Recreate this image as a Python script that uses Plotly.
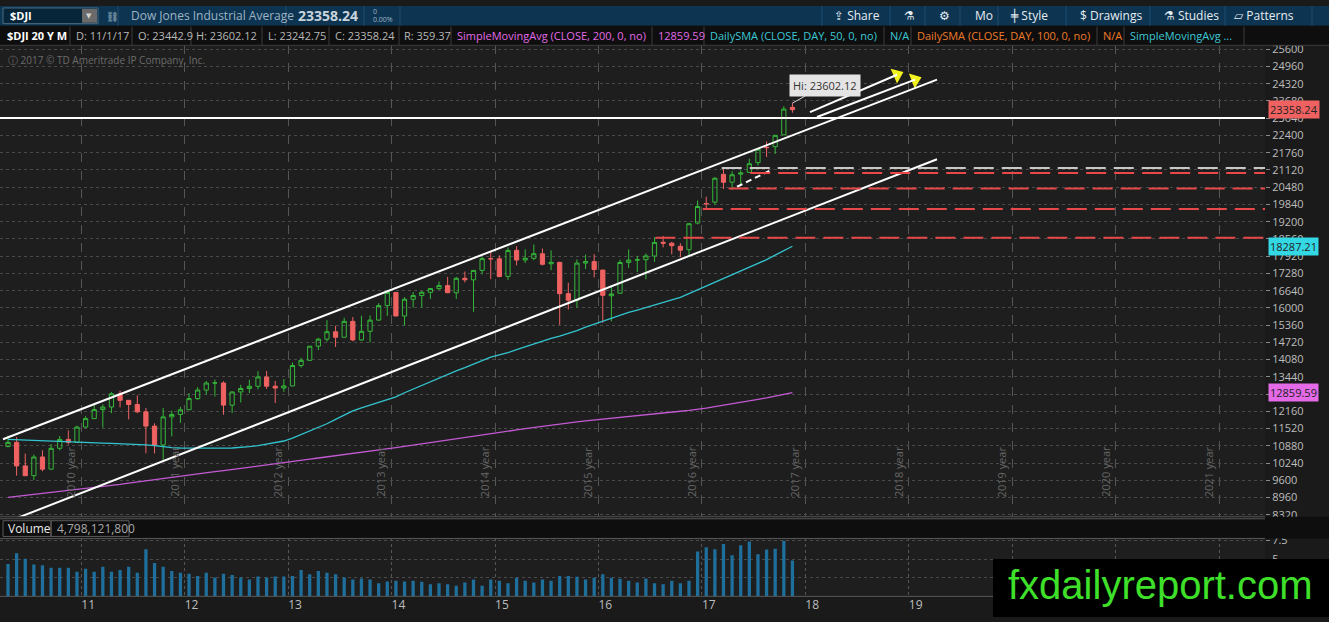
import plotly.graph_objects as go

# Monthly $DJI candles, Apr 2010 .. Nov 2017
months = ["2010-%02d" % m for m in range(4, 13)] + \
         ["%d-%02d" % (y, m) for y in range(2011, 2017) for m in range(1, 13)] + \
         ["2017-%02d" % m for m in range(1, 12)]

opens = [10857, 11009, 10137, 9774, 10466, 10016, 10789, 11120, 11007,
         11577, 11892, 12227, 12321, 12811, 12570, 12415, 12144, 11614, 10912, 11955, 12046,
         12221, 12632, 12952, 13214, 13214, 12391, 12880, 13009, 13092, 13437, 13094, 13027,
         13104, 13861, 14054, 14580, 14839, 15114, 14911, 15500, 14811, 15132, 15548, 16087,
         16572, 15698, 16321, 16458, 16581, 16715, 16828, 16561, 17099, 17041, 17392, 17827,
         17823, 17170, 18135, 17778, 17841, 18011, 17638, 17690, 16529, 16285, 17664, 17719,
         17405, 16452, 16546, 17687, 17774, 17789, 17924, 18434, 18401, 18283, 18162, 19149,
         19873, 19924, 20957, 20665, 20963, 21030, 21392, 21961, 21982, 22423, 23442.9]
highs = [11258, 11206, 10595, 10555, 10720, 10948, 11245, 11452, 11625,
         11981, 12391, 12419, 12876, 12929, 12570, 12753, 12285, 11717, 12284, 12188, 12330,
         12842, 13056, 13290, 13338, 13280, 12899, 13146, 13331, 13653, 13662, 13289, 13359,
         13970, 14150, 14587, 14887, 15542, 15340, 15635, 15658, 15710, 15721, 16174, 16588,
         16589, 16398, 16588, 16632, 16736, 16978, 17152, 17154, 17350, 17395, 17895, 18103,
         17951, 18244, 18289, 18175, 18351, 18204, 18138, 17712, 16933, 17799, 17978, 17996,
         17405, 16795, 17790, 18168, 17934, 18017, 18622, 18668, 18450, 18399, 19152, 19987,
         20126, 20851, 21169, 21070, 21112, 21535, 21929, 22179, 22420, 23485, 23602.12]
lows = [10825, 9774, 9757, 9614, 9936, 10010, 10712, 10929, 11004,
        11555, 11890, 11555, 12093, 12309, 11862, 12093, 10605, 10597, 10362, 11231, 11735,
        12221, 12587, 12780, 12710, 12035, 12101, 12492, 12842, 12979, 12993, 12471, 12883,
        13104, 13784, 14053, 14434, 14746, 14551, 14911, 14761, 14777, 14720, 15523, 15703,
        15699, 15340, 16015, 16015, 16334, 16674, 16563, 16334, 16945, 15855, 17247, 17068,
        17137, 17038, 17579, 17663, 17771, 17575, 17399, 15370, 15942, 16013, 17444, 17128,
        15450, 15503, 16529, 17484, 17332, 17063, 17713, 18247, 17992, 17883, 17931, 19099,
        19678, 19832, 20412, 20380, 20554, 21006, 21279, 21600, 21710, 22416, 23242.75]
closes = [11009, 10137, 9774, 10466, 10015, 10788, 11118, 11006, 11578,
          11892, 12226, 12320, 12811, 12570, 12414, 12143, 11614, 10913, 11955, 12046, 12218,
          12633, 12952, 13212, 13214, 12393, 12880, 13009, 13091, 13437, 13096, 13026, 13104,
          13861, 14054, 14579, 14840, 15116, 14910, 15500, 14810, 15130, 15546, 16086, 16577,
          15699, 16322, 16458, 16581, 16717, 16827, 16563, 17098, 17043, 17391, 17828, 17823,
          17165, 18133, 17776, 17841, 18011, 17620, 17690, 16528, 16285, 17664, 17720, 17425,
          16466, 16517, 17685, 17774, 17787, 17930, 18432, 18401, 18308, 18142, 19124, 19763,
          19864, 20812, 20663, 20941, 21009, 21350, 21891, 21948, 22405, 23377, 23358.24]

# volume in billions of shares
volume_bn = [4.35, 5.78, 5.04, 4.26, 4.17, 3.83, 3.83, 3.83, 3.30,
             3.70, 3.30, 3.96, 3.30, 3.52, 3.96, 3.17, 6.30, 4.48, 3.96, 3.39, 3.17,
             3.04, 2.74, 3.17, 2.52, 3.04, 2.87, 2.52, 2.26, 2.65, 2.52, 2.65, 2.65,
             2.74, 3.52, 2.96, 3.39, 3.17, 2.96, 2.52, 2.26, 2.39, 2.26, 1.74, 2.00,
             2.09, 2.00, 2.09, 1.96, 1.61, 1.74, 1.61, 1.43, 1.87, 2.26, 1.43, 2.26,
             2.09, 1.74, 2.48, 2.09, 1.87, 2.26, 2.09, 2.74, 2.74, 2.61, 2.26, 2.48,
             2.96, 2.48, 2.35, 2.09, 1.87, 2.39, 1.74, 1.61, 2.09, 1.74, 2.09, 6.00,
             6.57, 6.30, 7.00, 5.52, 6.83, 7.35, 5.65, 6.26, 6.39, 7.43, 4.80]

# moving averages (cyan and magenta studies)
sma_cyan = [11120, 11110, 11095, 11085, 11070, 11060, 11050, 11040, 11025,
            11010, 10995, 10985, 10970, 10960, 10945, 10935, 10920, 10890, 10850, 10815, 10800,
            10795, 10790, 10790, 10790, 10795, 10800, 10820, 10850, 10890, 10940, 10990, 11060,
            11170, 11300, 11430, 11550, 11700, 11860, 12030, 12180, 12290, 12390, 12490, 12590,
            12700, 12850, 12990, 13130, 13270, 13410, 13540, 13660, 13780, 13910, 14040, 14170,
            14260, 14340, 14450, 14560, 14670, 14780, 14870, 14950, 15050, 15160, 15290, 15400,
            15510, 15620, 15730, 15830, 15920, 16020, 16120, 16210, 16300, 16390, 16530, 16680,
            16800, 16930, 17080, 17230, 17370, 17500, 17640, 17790, 17960, 18130, 18287.21]
sma_magenta = [8970, 9005, 9040, 9075, 9110, 9145, 9180, 9220, 9255,
               9295, 9335, 9370, 9410, 9450, 9495, 9540, 9580, 9620, 9665, 9705, 9750,
               9790, 9835, 9875, 9920, 9960, 10000, 10045, 10085, 10125, 10170, 10210, 10255,
               10300, 10340, 10385, 10430, 10470, 10515, 10555, 10600, 10640, 10685, 10725, 10770,
               10815, 10860, 10905, 10950, 10995, 11040, 11085, 11130, 11180, 11225, 11275, 11320,
               11370, 11420, 11470, 11520, 11565, 11610, 11655, 11700, 11735, 11770, 11805, 11840,
               11870, 11905, 11935, 11970, 12000, 12035, 12065, 12100, 12130, 12165, 12195, 12230,
               12280, 12335, 12385, 12440, 12495, 12550, 12605, 12660, 12725, 12790, 12859.59]

year_labels = ["%d year" % y for y in range(2010, 2022)]
bottom_labels = [str(y) for y in range(11, 22)]
price_ticks = list(range(8320, 25601, 640))

# drawings (month index, price)
channel_upper = ([-0.58, 107.77], [11125, 24470])
channel_lower = ([-0.93, 107.77], [7953, 21516])
arrow_lines = [([93.04, 103.13], [23267, 24652]), ([93.85, 105.22], [23084, 24470])]
arrow_angles = [-23.6, -21.2]
dash_white = ([84.57, 88.75], [20496, 21152])
level_white = 23050
level_gray = (82.8, 21190)
levels_red = [(86.1, 21010), (83.6, 20430), (80.6, 19670), (75.1, 18600)]

W, H = 1329, 622
def px(x):
    return x / W
def py(y):
    return 1 - y / H

idx = list(range(len(months)))
bounds = [i - 0.5 for i, m in enumerate(months) if m.endswith("-01")]
while len(bounds) < len(year_labels):
    bounds.append(bounds[-1] + 12)
XR = [-0.928, 145.82]
XD = 1265 / W

fig = go.Figure()

fig.add_trace(go.Candlestick(
    x=idx, open=opens, high=highs, low=lows, close=closes,
    increasing=dict(line=dict(color="#35b83a", width=1), fillcolor="rgba(0,0,0,0)"),
    decreasing=dict(line=dict(color="#f06262", width=1), fillcolor="#f06262"),
    xaxis="x", yaxis="y", showlegend=False))

fig.add_trace(go.Scatter(x=idx, y=sma_cyan, mode="lines", line=dict(color="#33c4cf", width=1.3),
                         xaxis="x", yaxis="y", showlegend=False))
fig.add_trace(go.Scatter(x=idx, y=sma_magenta, mode="lines", line=dict(color="#c25ad2", width=1.3),
                         xaxis="x", yaxis="y", showlegend=False))

fig.add_trace(go.Bar(x=idx, y=volume_bn, width=0.38, marker=dict(color="#1f6f9c", line=dict(width=0)),
                     xaxis="x2", yaxis="y2", showlegend=False))

shapes = []
# trend lines
for xs, ys in [channel_upper, channel_lower] + arrow_lines:
    shapes.append(dict(type="line", xref="x", yref="y", x0=xs[0], x1=xs[1], y0=ys[0], y1=ys[1],
                       line=dict(color="white", width=2)))
shapes.append(dict(type="line", xref="x", yref="y", x0=dash_white[0][0], x1=dash_white[0][1],
                   y0=dash_white[1][0], y1=dash_white[1][1], line=dict(color="white", width=2, dash="6px,4px")))
shapes.append(dict(type="line", xref="x", yref="y", x0=XR[0], x1=XR[1], y0=level_white, y1=level_white,
                   line=dict(color="white", width=2)))
shapes.append(dict(type="line", xref="x", yref="y", x0=level_gray[0], x1=XR[1], y0=level_gray[1], y1=level_gray[1],
                   line=dict(color="#c8c8c8", width=2, dash="20px,8px")))
for x0, lv in levels_red:
    shapes.append(dict(type="line", xref="x", yref="y", x0=x0, x1=XR[1], y0=lv, y1=lv,
                       line=dict(color="#e8484a", width=2, dash="20px,8px")))

# panel frames
shapes.append(dict(type="rect", xref="paper", yref="paper", x0=0, x1=1, y0=py(542), y1=py(520),
                   fillcolor="#0e0e0e", line=dict(width=0), layer="above"))
for yy in [520, 522, 542, 601]:
    shapes.append(dict(type="line", xref="paper", yref="paper", x0=0, x1=XD, y0=py(yy), y1=py(yy),
                       line=dict(color="#5a5a5a", width=1), layer="above"))
shapes.append(dict(type="rect", xref="paper", yref="paper", x0=px(3), x1=px(51), y0=py(540), y1=py(524),
                   line=dict(color="#5a5a5a", width=1), layer="above"))
shapes.append(dict(type="rect", xref="paper", yref="paper", x0=px(51), x1=px(129), y0=py(540), y1=py(524),
                   line=dict(color="#5a5a5a", width=1), layer="above"))

# header rows
shapes.append(dict(type="rect", xref="paper", yref="paper", x0=0, x1=1, y0=py(20), y1=1,
                   fillcolor="#0d3552", line=dict(width=0), layer="above"))
shapes.append(dict(type="rect", xref="paper", yref="paper", x0=0, x1=1, y0=py(40), y1=py(20),
                   fillcolor="#0e0e0e", line=dict(width=0), layer="above"))
shapes.append(dict(type="rect", xref="paper", yref="paper", x0=px(3), x1=px(98), y0=py(18), y1=py(2),
                   fillcolor="#072539", line=dict(color="#4d6d84", width=1), layer="above"))
shapes.append(dict(type="rect", xref="paper", yref="paper", x0=px(82), x1=px(97), y0=py(17), y1=py(3),
                   fillcolor="#6a6a6a", line=dict(width=0), layer="above"))
for xx in [118, 286, 364, 400, 822, 890, 925, 960, 998, 1066, 1150, 1225, 1312]:
    shapes.append(dict(type="line", xref="paper", yref="paper", x0=px(xx), x1=px(xx), y0=py(20), y1=1,
                       line=dict(color="#1f4c6c", width=1), layer="above"))
for xx in [70, 132, 191, 262, 329, 399, 451, 652, 704, 884, 911, 1097, 1124, 1244]:
    shapes.append(dict(type="line", xref="paper", yref="paper", x0=px(xx), x1=px(xx), y0=py(40), y1=py(21),
                       line=dict(color="#3c3c3c", width=1), layer="above"))
shapes.append(dict(type="line", xref="paper", yref="paper", x0=0, x1=1, y0=py(40), y1=py(40),
                   line=dict(color="#3c3c3c", width=1), layer="above"))

# watermark box
shapes.append(dict(type="rect", xref="paper", yref="paper", x0=px(993), x1=1, y0=0, y1=py(563),
                   fillcolor="#000000", line=dict(width=0), layer="above"))

ann = []
def txt(x, y, s, color="#b8b8b8", size=11, bold=False, anchor="left"):
    ann.append(dict(x=px(x), y=py(y), xref="paper", yref="paper", text="<b>%s</b>" % s if bold else s,
                    showarrow=False, xanchor=anchor, yanchor="middle", font=dict(color=color, size=size)))

txt(8, 10, "$DJI", "#ffffff", 11, True)
txt(89, 10, "▼", "#d0d0d0", 7, anchor="center")
txt(104, 10, "⛓", "#b0c4d4", 10)
txt(129, 10, "Dow Jones Industrial Average", "#9fb3c3", 12)
txt(296, 10, "23358.24", "#c9d3dc", 14, True)
txt(371, 6, "0", "#9fb3c3", 7)
txt(371, 14, "0.00%", "#9fb3c3", 7)
for x, s in [(832, "⇪ Share"), (902, "⚗"), (937, "⚙"), (973, "Mo"), (1008, "╪ Style"),
             (1078, "$ Drawings"), (1162, "⚗ Studies"), (1232, "▱ Patterns")]:
    txt(x, 10, s, "#e6ecf0", 12)

txt(5, 30, "$DJI 20 Y M", "#ffffff", 11, True)
for x, s, c in [(74, "D: 11/1/17", "#b8b8b8"), (136, "O: 23442.9", "#b8b8b8"), (194, "H: 23602.12", "#b8b8b8"),
                (266, "L: 23242.75", "#b8b8b8"), (333, "C: 23358.24", "#b8b8b8"), (402, "R: 359.37", "#b8b8b8"),
                (455, "SimpleMovingAvg (CLOSE, 200, 0, no)", "#e16ae6"), (656, "12859.59", "#e16ae6"),
                (708, "DailySMA (CLOSE, DAY, 50, 0, no)", "#3cc8d4"), (888, "N/A", "#3cc8d4"),
                (915, "DailySMA (CLOSE, DAY, 100, 0, no)", "#ee7a2a"), (1101, "N/A", "#ee7a2a"),
                (1128, "SimpleMovingAvg ...", "#3cc8d4")]:
    txt(x, 30, s, c, 11)
txt(6, 55, "ⓘ 2017 © TD Ameritrade IP Company, Inc.", "#6b6b6b", 10)

txt(6, 532, "Volume", "#e8e8e8", 12)
txt(55, 532, "4,798,121,800", "#a8a8a8", 12)

for b, lab in zip(bounds, year_labels):
    ann.append(dict(x=b, y=py(474), xref="x", yref="paper", text=lab, textangle=-90, showarrow=False,
                    xanchor="right", yanchor="middle", xshift=-1, font=dict(size=11, color="#666666")))

for val, bg in [(closes[-1], "#f06262"), (sma_cyan[-1], "#33d8e4"), (sma_magenta[-1], "#e46ae8")]:
    ann.append(dict(x=px(1268), y=val, xref="paper", yref="y", text="%.2f" % val, showarrow=False,
                    xanchor="left", yanchor="middle", bgcolor=bg, borderpad=1,
                    font=dict(size=11, color="#222222")))

ann.append(dict(x=idx[-1], y=highs[-1], xref="x", yref="y", text="Hi: %.2f" % highs[-1], showarrow=True,
                ax=33, ay=-18, arrowhead=0, arrowcolor="#d8d8d8", arrowwidth=1, bgcolor="#e4e4e4",
                borderpad=3, font=dict(size=11, color="#333333")))

ann.append(dict(x=px(1160), y=py(589), xref="paper", yref="paper", text="fxdailyreport.com", showarrow=False,
                xanchor="center", yanchor="middle",
                font=dict(family="Liberation Sans, Arial", size=40, color="#3ee02a")))

# yellow arrowheads on the two drawn arrows
fig.add_trace(go.Scatter(x=[a[0][1] for a in arrow_lines], y=[a[1][1] for a in arrow_lines], mode="markers",
                         marker=dict(symbol="triangle-right", size=14, color="#f2f21e", angle=arrow_angles,
                                     line=dict(width=0)),
                         xaxis="x", yaxis="y", showlegend=False))

fig.update_layout(
    width=W, height=H,
    margin=dict(l=0, r=0, t=0, b=0),
    paper_bgcolor="#1a1a1a",
    plot_bgcolor="#1e1e1e",
    font=dict(family="Open Sans, DejaVu Sans, sans-serif", color="#b8b8b8", size=11),
    showlegend=False,
    xaxis=dict(domain=[0, XD], range=XR, anchor="y", tickvals=bounds, showticklabels=False, ticks="",
               showgrid=True, gridcolor="#555555", griddash="dash", gridwidth=1, zeroline=False,
               rangeslider=dict(visible=False)),
    yaxis=dict(domain=[py(520), py(40)], range=[8247, 25746], anchor="x", side="right",
               tickvals=price_ticks, tickformat="d", ticks="outside", ticklen=4, tickcolor="#8a8a8a",
               tickfont=dict(size=11, color="#bdbdbd"), showgrid=True, gridcolor="#4a4a4a",
               griddash="dot", zeroline=False),
    xaxis2=dict(domain=[0, XD], range=XR, anchor="y2", tickvals=bounds, ticktext=bottom_labels,
                ticklabelposition="outside right", ticks="", tickfont=dict(size=12, color="#bdbdbd"),
                showgrid=True, gridcolor="#555555", griddash="dot", zeroline=False),
    yaxis2=dict(domain=[py(601), py(542)], range=[0, 7.76], anchor="x2", side="right",
                tickvals=[2.5, 5, 7.5], ticktext=["2.5", "5", "7.5"], ticks="outside", ticklen=4,
                tickcolor="#8a8a8a", tickfont=dict(size=11, color="#bdbdbd"), showgrid=True,
                gridcolor="#4a4a4a", griddash="dot", zeroline=False),
    shapes=shapes,
    annotations=ann,
)

fig.write_html("out.html", config={"displayModeBar": False},
               post_script="document.body.style.margin='0';document.body.style.overflow='hidden';")
